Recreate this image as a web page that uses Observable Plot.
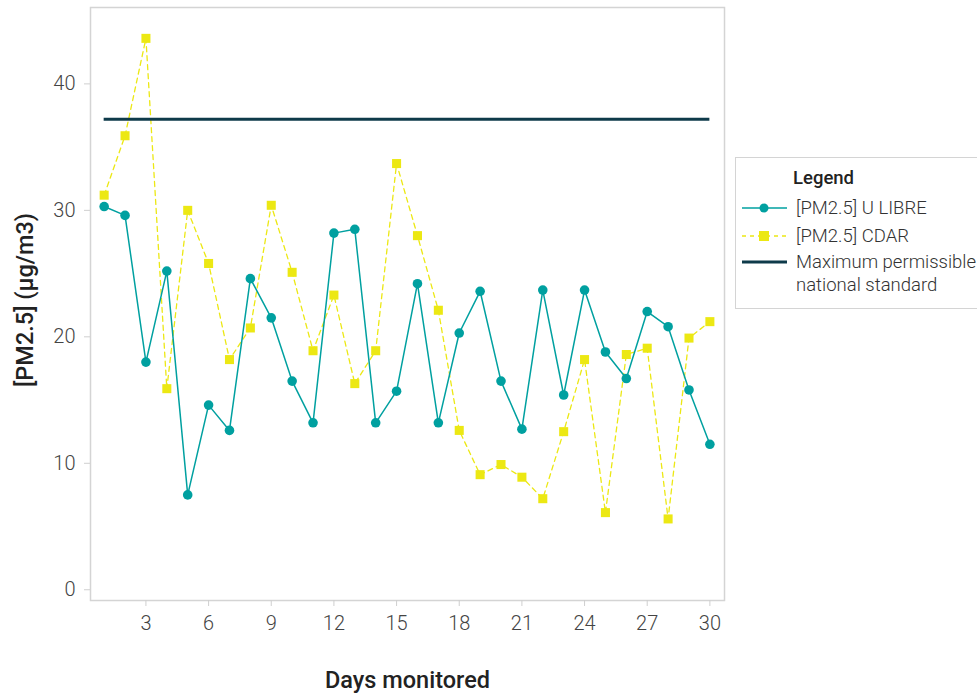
<!DOCTYPE html>
<html>
<head>
<meta charset="utf-8">
<script src="https://cdn.jsdelivr.net/npm/d3@7"></script>
<script src="https://cdn.jsdelivr.net/npm/@observablehq/plot@0.6"></script>
<style>
  html, body { margin: 0; padding: 0; background: #fff; }
  #wrap { position: relative; width: 977px; height: 694px; overflow: hidden; font-family: Roboto, "Noto Sans", sans-serif; }
  #legend { position: absolute; left: 735px; top: 157px; }
  #chart svg { display: block; }
</style>
</head>
<body>
<div id="wrap">
  <div id="chart"></div>
  <div id="legend"></div>
</div>
<script>
const days = [1,2,3,4,5,6,7,8,9,10,11,12,13,14,15,16,17,18,19,20,21,22,23,24,25,26,27,28,29,30];
const uLibre = [30.3,29.6,18.0,25.2,7.5,14.6,12.6,24.6,21.5,16.5,13.2,28.2,28.5,13.2,15.7,24.2,13.2,20.3,23.6,16.5,12.7,23.7,15.4,23.7,18.8,16.7,22.0,20.8,15.8,11.5];
const cdar = [31.2,35.9,43.6,15.9,30.0,25.8,18.2,20.7,30.4,25.1,18.9,23.3,16.3,18.9,33.7,28.0,22.1,12.6,9.1,9.9,8.9,7.2,12.5,18.2,6.1,18.6,19.1,5.6,19.9,21.2];
const standard = 37.2;
const xTicks = [3,6,9,12,15,18,21,24,27,30];
const yTicks = [0,10,20,30,40];
const seriesNames = ["[PM2.5] U LIBRE", "[PM2.5] CDAR", "Maximum permissible", "national standard"];
const xTitle = "Days monitored";
const yTitle = "[PM2.5] (µg/m3)";

const teal = "#00a0a0";
const yellow = "#ece813";
const navy = "#0e3a4a";

const rowsU = days.map((d, i) => ({day: d, v: uLibre[i]}));
const rowsC = days.map((d, i) => ({day: d, v: cdar[i]}));

const chart = Plot.plot({
  width: 977,
  height: 694,
  marginLeft: 90,
  marginRight: 253,
  marginTop: 7,
  marginBottom: 94,
  style: {fontFamily: "Roboto, sans-serif", fontSize: "20px", color: "#444", background: "#fff"},
  x: {domain: [0.346, 30.70]},
  y: {domain: [-0.85, 46.04]},
  marks: [
    Plot.frame({stroke: "#d4d4d4", strokeWidth: 1.5}),
    Plot.axisX({ticks: xTicks, tickSize: 6, tickPadding: 9, label: null, stroke: "#cfcfcf", fontWeight: 300, fill: "#444"}),
    Plot.axisY({ticks: yTicks, tickSize: 6, tickPadding: 9, label: null, stroke: "#cfcfcf", fontWeight: 300, fill: "#444"}),
    Plot.lineY(rowsC, {x: "day", y: "v", stroke: yellow, strokeWidth: 1.3, strokeDasharray: "5,4"}),
    Plot.dot(rowsC, {x: "day", y: "v", symbol: "square", r: 5.1, fill: yellow, stroke: null}),
    Plot.lineY(rowsU, {x: "day", y: "v", stroke: teal, strokeWidth: 1.5}),
    Plot.dot(rowsU, {x: "day", y: "v", r: 4.8, fill: teal, stroke: null}),
    Plot.ruleY([standard], {x1: days[0], x2: days[days.length - 1], stroke: navy, strokeWidth: 3}),
    Plot.text([xTitle], {frameAnchor: "bottom", dy: 87, fontSize: 23.5, fontWeight: 500, fill: "#222"}),
    Plot.text([yTitle], {frameAnchor: "left", textAnchor: "middle", rotate: -90, dx: -65, dy: -4, fontSize: 23.5, fontWeight: 500, fill: "#222"})
  ]
});
document.getElementById("chart").appendChild(chart);

// Legend
const lg = d3.select("#legend").append("svg").attr("width", 242).attr("height", 153)
  .style("font-family", "Roboto, sans-serif");
lg.append("rect").attr("x", 0.5).attr("y", 0.5).attr("width", 300).attr("height", 151)
  .attr("fill", "#fff").attr("stroke", "#d4d4d4");
lg.append("text").attr("x", 58).attr("y", 27).attr("font-size", 18.5).attr("font-weight", 500)
  .attr("fill", "#222").text("Legend");
const rows = [
  {y: 51, kind: "u"},
  {y: 79, kind: "c"},
  {y: 105, kind: "s"}
];
rows.forEach(r => {
  if (r.kind === "u") {
    lg.append("line").attr("x1", 7).attr("x2", 52).attr("y1", r.y).attr("y2", r.y).attr("stroke", teal).attr("stroke-width", 1.6);
    lg.append("circle").attr("cx", 29).attr("cy", r.y).attr("r", 4.5).attr("fill", teal);
  } else if (r.kind === "c") {
    lg.append("line").attr("x1", 7).attr("x2", 52).attr("y1", r.y).attr("y2", r.y).attr("stroke", yellow).attr("stroke-width", 1.3).attr("stroke-dasharray", "4,4");
    lg.append("rect").attr("x", 24).attr("y", r.y - 5).attr("width", 10).attr("height", 10).attr("fill", yellow);
  } else {
    lg.append("line").attr("x1", 7).attr("x2", 52).attr("y1", r.y).attr("y2", r.y).attr("stroke", navy).attr("stroke-width", 3);
  }
});
const labelStyle = (t) => t.attr("font-size", 18.5).attr("font-weight", 300).attr("fill", "#333").attr("dominant-baseline", "central");
labelStyle(lg.append("text").attr("x", 61).attr("y", 51).text(seriesNames[0]));
labelStyle(lg.append("text").attr("x", 61).attr("y", 79).text(seriesNames[1]));
labelStyle(lg.append("text").attr("x", 61).attr("y", 105).text(seriesNames[2]));
labelStyle(lg.append("text").attr("x", 61).attr("y", 128).text(seriesNames[3]));
</script>
</body>
</html>
